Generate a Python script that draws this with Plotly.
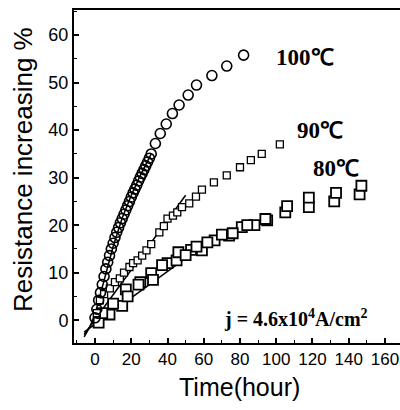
import plotly.graph_objects as go

# 100 C (circles)
t100 = [0, 1, 2, 3, 4, 5, 6, 7, 8, 9, 10, 11, 12, 13, 14, 15, 16, 17, 18, 19, 20,
        21, 22, 23, 24, 25, 26, 27, 28, 29, 30, 31, 33.3, 36, 39.3, 42.7, 46.4,
        51.4, 56, 64.5, 72.7, 82]
r100 = [0.5, 2.3, 4.2, 5.8, 7.5, 9.2, 10.8, 12.2, 13.6, 15, 16.2, 17.4, 18.5, 19.5,
        20.5, 21.4, 22.3, 23.2, 24.1, 25, 25.9, 26.8, 27.6, 28.4, 29.3, 30.1, 30.9,
        31.7, 32.5, 33.3, 34.1, 35, 37.2, 39.3, 41.3, 43.5, 45.3, 47.4, 49.5, 51.5,
        53.5, 55.8]

# 90 C (small squares)
t90 = [1, 2.7, 5, 8.2, 11, 13.7, 16, 19, 21, 23.5, 26, 28.4, 31, 35.5, 38, 40, 43,
       45.4, 48, 52, 55.7, 59, 65.6, 72.7, 80, 86, 92, 102]
r90 = [1.5, 4.2, 5.5, 6.7, 8, 8.8, 10, 11.2, 12, 12.6, 13.6, 14.7, 16, 18.5, 19.8,
       21.4, 22, 22.7, 23.8, 24.6, 26, 27.5, 29, 30.5, 32.2, 33.7, 35, 37]

# 80 C (large squares, two runs)
t80a = [2, 8, 15, 17, 25, 31, 40, 45, 53, 59, 66, 74, 81, 88, 95, 105, 118, 132, 146]
r80a = [-0.5, 1.2, 3, 6.5, 8, 9.9, 12, 12.6, 14.8, 14.7, 16.8, 17.8, 19.6, 20, 21,
        22.7, 23.8, 25, 26.5]
t80b = [4, 10, 18, 24, 32, 37, 46, 50, 56, 62, 70, 76, 84, 94, 106, 118, 133, 147]
r80b = [1.5, 3.5, 5, 7.5, 8.5, 11.6, 14.3, 13.7, 15.5, 16.4, 18, 18.3, 20, 21.3, 24,
        25.8, 26.8, 28.3]

# fit lines
fit100_t = [-6, -3, 0, 5, 10, 15, 20, 25, 31]
fit100_r = [-3.5, -1.5, 1.2, 8.5, 15.5, 21.5, 26.3, 30.5, 35]
fit90_t = [-6, 50]
fit90_r = [-3, 26.3]
fit80_t = [-6, 66]
fit80_r = [-2.5, 17.5]

xticks = [0, 20, 40, 60, 80, 100, 120, 140, 160]
yticks = [0, 10, 20, 30, 40, 50, 60]

fig = go.Figure()
line_style = dict(color="black", width=1.5)
for fx, fy in [(fit100_t, fit100_r), (fit90_t, fit90_r), (fit80_t, fit80_r)]:
    fig.add_trace(go.Scatter(x=fx, y=fy, mode="lines", line=line_style, showlegend=False))

sq_big = dict(symbol="square", size=10, color="white", line=dict(color="black", width=1.8))
fig.add_trace(go.Scatter(x=t80a, y=r80a, mode="markers", marker=sq_big, showlegend=False))
fig.add_trace(go.Scatter(x=t80b, y=r80b, mode="markers", marker=sq_big, showlegend=False))
fig.add_trace(go.Scatter(x=t90, y=r90, mode="markers",
                         marker=dict(symbol="square", size=7, color="white",
                                     line=dict(color="black", width=1.3)),
                         showlegend=False))
fig.add_trace(go.Scatter(x=t100, y=r100, mode="markers",
                         marker=dict(symbol="circle-open", size=10,
                                     line=dict(color="black", width=1.6), color="black"),
                         showlegend=False))

serif = "Liberation Serif, Times New Roman, serif"
sans = "Liberation Sans, Arial, sans-serif"
ann_font = dict(family=serif, size=23, color="black")
for txt, ax_, ay_ in [("<b>100℃</b>", 116, 55.4), ("<b>90℃</b>", 124, 40),
                      ("<b>80℃</b>", 133, 32)]:
    fig.add_annotation(x=ax_, y=ay_, text=txt, showarrow=False, font=ann_font)
fig.add_annotation(x=111, y=0.4, text="<b>j = 4.6x10<sup>4</sup>A/cm<sup>2</sup></b>",
                   showarrow=False, font=dict(family=serif, size=20, color="black"))

# axis titles
fig.add_annotation(xref="paper", yref="paper", x=0.509, y=-0.132, text="Time(hour)",
                   showarrow=False, xanchor="center", yanchor="middle",
                   font=dict(family=sans, size=25, color="black"))
fig.add_annotation(xref="paper", yref="paper", x=-0.156, y=0.52,
                   text="Resistance increasing %", textangle=-90,
                   showarrow=False, xanchor="center", yanchor="middle",
                   font=dict(family=sans, size=26, color="black"))

axis_common = dict(showgrid=False, zeroline=False, showline=True, linecolor="black",
                   linewidth=2, ticks="inside", ticklen=5, tickwidth=1.5,
                   tickcolor="black", automargin=False)

fig.update_xaxes(range=[-11.6, 168.3], tickvals=xticks, mirror=True,
                 ticklabeloverflow="allow",
                 tickfont=dict(family=sans, size=17, color="black"),
                 minor=dict(dtick=10, ticks="inside", ticklen=3, tickwidth=1.2,
                            tickcolor="black", showgrid=False),
                 **axis_common)
fig.update_yaxes(range=[-4.8, 65.3], tickvals=yticks,
                 tickfont=dict(family=sans, size=18, color="black"),
                 minor=dict(dtick=5, ticks="inside", ticklen=3, tickwidth=1.2,
                            tickcolor="black", showgrid=False),
                 **axis_common)

fig.update_layout(width=400, height=410, margin=dict(l=74, r=0, t=10, b=67),
                  plot_bgcolor="white", paper_bgcolor="white")

fig.write_html("out.html", config={"displayModeBar": False},
               post_script="document.body.style.margin='0';document.body.style.overflow='hidden';")
